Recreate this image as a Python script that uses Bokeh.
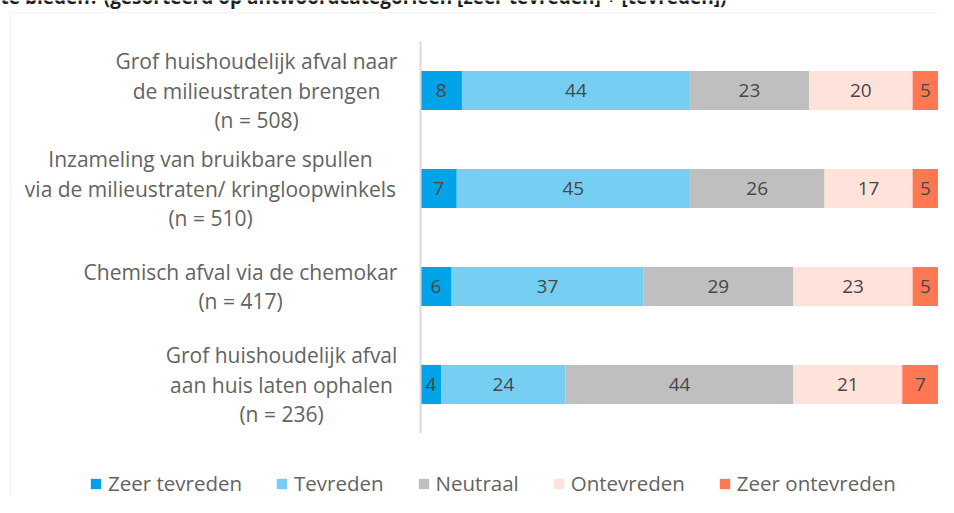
import pandas as pd
from bokeh.plotting import figure
from bokeh.models import (ColumnDataSource, Range1d, LabelSet, Label,
                          Legend, LegendItem, BoxAnnotation)
from bokeh.core.properties import value
from bokeh.embed import file_html
from bokeh.resources import INLINE

# ---- data ----
categories = [
    "Grof huishoudelijk afval naar\nde milieustraten brengen\n(n = 508)",
    "Inzameling van bruikbare spullen\nvia de milieustraten/ kringloopwinkels\n(n = 510)",
    "Chemisch afval via de chemokar\n(n = 417)",
    "Grof huishoudelijk afval\naan huis laten ophalen\n(n = 236)",
]
series_names = ["Zeer tevreden", "Tevreden", "Neutraal", "Ontevreden", "Zeer ontevreden"]
zeer_tevreden = [8, 7, 6, 4]
tevreden = [44, 45, 37, 24]
neutraal = [23, 26, 29, 44]
ontevreden = [20, 17, 23, 21]
zeer_ontevreden = [5, 5, 5, 7]
title_text = "te bieden? (gesorteerd op antwoordcategorieën [zeer tevreden] + [tevreden])"

# ---- styles / layout ----
colors = ["#00A2E8", "#77CEF3", "#BFBFBF", "#FFE3DB", "#FF7753"]
label_dx = [-164, -210, -180, -139]   # centre of each label block, px left of the axis
FONT = "Open Sans"
W, H = 938, 497
PLOT_LEFT, PLOT_W = 420, 518          # pixel extent of the 0..100 % scale
ROW_PX, FIRST_ROW_Y = 98.0, 90        # row pitch, centre of first row from top
LINE_PX = 29.5

n = len(categories)
series_values = [zeer_tevreden, tevreden, neutraal, ontevreden, zeer_ontevreden]
keys = ["s%d" % i for i in range(len(series_names))]
df = pd.DataFrame({"cat": categories, "ypos": [n - 1 - i for i in range(n)]})
for k, vals in zip(keys, series_values):
    df[k] = vals
source = ColumnDataSource(df)

px = PLOT_W / 100.0
x_range = Range1d(-PLOT_LEFT / px, (W - PLOT_LEFT) / px)
top_y = (n - 1) + FIRST_ROW_Y / ROW_PX
y_range = Range1d(top_y - H / ROW_PX, top_y)

p = figure(width=W, height=H, x_range=x_range, y_range=y_range,
           output_backend="svg", toolbar_location=None,
           min_border=0, min_border_left=0, min_border_right=0,
           min_border_top=0, min_border_bottom=0)
p.xaxis.visible = False
p.yaxis.visible = False
p.grid.visible = False
p.outline_line_color = None
p.background_fill_color = "white"
p.border_fill_color = "white"

renderers = p.hbar_stack(keys, y="ypos", height=0.4, color=colors, line_color=None,
                         source=source)

# value labels centred in each segment
rows = []
for ci in range(n):
    left = 0
    for vals in series_values:
        v = vals[ci]
        rows.append({"ypos": n - 1 - ci, "mid": left + v / 2, "txt": str(v)})
        left += v
p.text(x="mid", y="ypos", text="txt", source=ColumnDataSource(pd.DataFrame(rows)),
       text_align="center", text_baseline="middle",
       text_font=value(FONT), text_font_size="19px", text_color="#474747")

# category axis line
p.segment(x0=0, y0=-0.5, x1=0, y1=n - 0.5, line_color="#D9D9D9", line_width=2)

# category labels, one centred line at a time
lines = []
for ci, cat in enumerate(categories):
    parts = cat.split("\n")
    k = len(parts)
    for j, t in enumerate(parts):
        lines.append({"x": 0, "ypos": n - 1 - ci, "txt": t, "dx": label_dx[ci],
                      "dy": ((k - 1) / 2 - j) * LINE_PX})
p.add_layout(LabelSet(x="x", y="ypos", text="txt", x_offset="dx", y_offset="dy",
                      source=ColumnDataSource(pd.DataFrame(lines)),
                      text_align="center", text_baseline="middle",
                      text_font=value(FONT), text_font_size="21px",
                      text_color="#636363"))

# cut-off title and chart border
p.add_layout(Label(x=0, y=H - 9, x_units="screen", y_units="screen", text=title_text,
                   text_font=FONT, text_font_style="bold", text_font_size="19px",
                   text_color="#1F1F1F", text_baseline="bottom"))
p.add_layout(BoxAnnotation(left=10, right=W + 50, top=H - 12, bottom=-50,
                           left_units="screen", right_units="screen",
                           top_units="screen", bottom_units="screen",
                           fill_alpha=0, line_color="#D9D9D9", line_width=1))

legend = Legend(items=[LegendItem(label=nm, renderers=[r]) for nm, r in zip(series_names, renderers)],
                orientation="horizontal", location=(89, 0),
                glyph_width=13, glyph_height=13, label_standoff=6, spacing=33,
                padding=0, margin=0, border_line_color=None, background_fill_alpha=0,
                label_text_font=FONT, label_text_font_size="20.5px", label_text_color="#636363")
p.add_layout(legend, "center")

open("out.html", "w").write(file_html(p, INLINE))
